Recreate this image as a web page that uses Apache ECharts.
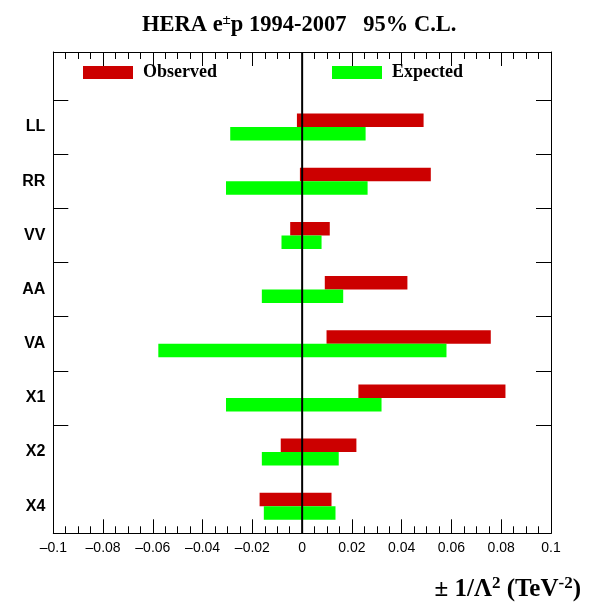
<!DOCTYPE html>
<html>
<head>
<meta charset="utf-8">
<script src="https://cdn.jsdelivr.net/npm/echarts@6/dist/echarts.min.js"></script>
<style>
  html, body { margin: 0; padding: 0; background: #fff; }
  #chart { width: 590px; height: 602px; }
</style>
</head>
<body>
<div id="chart"></div>
<script>
// Contact-interaction models, top to bottom
const categories = ['LL', 'RR', 'VV', 'AA', 'VA', 'X1', 'X2', 'X4'];

// 95% C.L. intervals in ±1/Λ² (TeV⁻²)
const observedLow  = [-0.0021, -0.0009, -0.0048, 0.0091, 0.0098, 0.0226, -0.0086, -0.0171];
const observedHigh = [ 0.0488,  0.0517,  0.0111, 0.0423, 0.0758, 0.0817,  0.0218,  0.0118];
const expectedLow  = [-0.0289, -0.0306, -0.0083, -0.0162, -0.0578, -0.0306, -0.0162, -0.0154];
const expectedHigh = [ 0.0255,  0.0263,  0.0078,  0.0165,  0.0580,  0.0319,  0.0147,  0.0134];

// x axis range and tick labels
const xMin = -0.1, xMax = 0.1, xStep = 0.02;
const xTickLabels = ['\u20130.1', '\u20130.08', '\u20130.06', '\u20130.04', '\u20130.02', '0',
                     '0.02', '0.04', '0.06', '0.08', '0.1'];

const serif = '"Liberation Serif", "Times New Roman", serif';
const sans = '"Liberation Sans", Arial, Helvetica, sans-serif';

const chart = echarts.init(document.getElementById('chart'), null, { renderer: 'canvas' });

// y positions: category i is centred on value i; extra room on top holds the legend
const yTop = -1.386, yBottom = categories.length - 0.5;
const boundaryTicks = categories.slice(0, -1).map((_, i) => i - 0.5);
const centreTicks = categories.map((_, i) => i);

function rangeData(lo, hi) {
  return categories.map((_, i) => [lo[i], hi[i], i]);
}

// half-height of a bar, in category units
const barHalf = 0.249;

function makeRender(side) {
  return function (params, api) {
    const lo = api.value(0), hi = api.value(1), i = api.value(2);
    const y0 = side < 0 ? i - barHalf : i;
    const y1 = side < 0 ? i : i + barHalf;
    const p0 = api.coord([lo, y0]);
    const p1 = api.coord([hi, y1]);
    return {
      type: 'rect',
      shape: { x: p0[0], y: p0[1], width: p1[0] - p0[0], height: p1[1] - p0[1] },
      style: api.style()
    };
  };
}

const xAxisCommon = {
  type: 'value',
  min: xMin, max: xMax, interval: xStep,
  axisLine: { show: true, onZero: false, lineStyle: { color: '#000', width: 1 } },
  axisTick: { show: true, inside: true, length: 14, lineStyle: { color: '#000', width: 1 } },
  minorTick: { show: true, splitNumber: 4, length: 7, lineStyle: { color: '#000', width: 1 } },
  splitLine: { show: false },
  minorSplitLine: { show: false }
};

const yAxisCommon = {
  type: 'value',
  inverse: true,
  min: yTop, max: yBottom,
  axisLine: { show: true, onZero: false, lineStyle: { color: '#000', width: 1 } },
  axisTick: { show: true, inside: true, length: 15, customValues: boundaryTicks,
              lineStyle: { color: '#000', width: 1 } },
  splitLine: { show: false }
};

const option = {
  backgroundColor: '#fff',
  animation: false,
  title: [
    {
      text: '{b|HERA e}{s|\u00b1}{b|p 1994-2007   95% C.L.}',
      left: 137, top: 8,
      textStyle: {
        rich: {
          b: { fontFamily: serif, fontWeight: 'bold', fontSize: 22.5, color: '#000' },
          s: { fontFamily: serif, fontWeight: 'bold', fontSize: 15, color: '#000', verticalAlign: 'top', padding: [0, 0, 10, 0] }
        }
      }
    },
    {
      text: '{b|\u00b1 1/\u039b}{s|2}{b| (TeV}{s|-2}{b|)}',
      right: 4, top: 570,
      textStyle: {
        rich: {
          b: { fontFamily: serif, fontWeight: 'bold', fontSize: 25, color: '#000' },
          s: { fontFamily: serif, fontWeight: 'bold', fontSize: 17, color: '#000', padding: [0, 0, 12, 0] }
        }
      }
    }
  ],
  legend: [
    {
      data: ['Observed'], left: 78, top: 58.5,
      itemWidth: 50, itemHeight: 13, icon: 'rect',
      textStyle: { fontFamily: serif, fontWeight: 'bold', fontSize: 18, color: '#000', padding: [0, 0, 0, 5] }
    },
    {
      data: ['Expected'], left: 327, top: 58.5,
      itemWidth: 50, itemHeight: 13, icon: 'rect',
      textStyle: { fontFamily: serif, fontWeight: 'bold', fontSize: 18, color: '#000', padding: [0, 0, 0, 5] }
    }
  ],
  grid: { left: 53.3, right: 39, top: 52, bottom: 68.7, containLabel: false },
  xAxis: [
    Object.assign({}, xAxisCommon, {
      position: 'bottom',
      axisLabel: {
        show: true, margin: 8, color: '#000', fontFamily: sans, fontSize: 14,
        formatter: (v) => xTickLabels[Math.round((v - xMin) / xStep)]
      }
    }),
    Object.assign({}, xAxisCommon, {
      position: 'top',
      axisLabel: { show: false }
    })
  ],
  yAxis: [
    Object.assign({}, yAxisCommon, {
      position: 'left',
      axisLabel: {
        show: true, margin: 8, color: '#000', fontFamily: sans, fontWeight: 'bold', fontSize: 16,
        customValues: centreTicks,
        formatter: (v) => categories[Math.round(v)]
      }
    }),
    Object.assign({}, yAxisCommon, {
      position: 'right',
      axisLabel: { show: false }
    })
  ],
  series: [
    {
      name: 'Observed',
      type: 'custom',
      xAxisIndex: 0, yAxisIndex: 0,
      itemStyle: { color: '#cc0000' },
      encode: { x: [0, 1], y: 2 },
      data: rangeData(observedLow, observedHigh),
      renderItem: makeRender(-1),
      z: 2
    },
    {
      name: 'Expected',
      type: 'custom',
      xAxisIndex: 0, yAxisIndex: 0,
      itemStyle: { color: '#00ff00' },
      encode: { x: [0, 1], y: 2 },
      data: rangeData(expectedLow, expectedHigh),
      renderItem: makeRender(1),
      z: 2
    },
    {
      // vertical zero line drawn over the bars
      type: 'line',
      xAxisIndex: 0, yAxisIndex: 0,
      data: [[0, yTop], [0, yBottom]],
      symbol: 'none',
      lineStyle: { color: '#000', width: 2 },
      silent: true,
      z: 5
    }
  ]
};

chart.setOption(option);
</script>
</body>
</html>
